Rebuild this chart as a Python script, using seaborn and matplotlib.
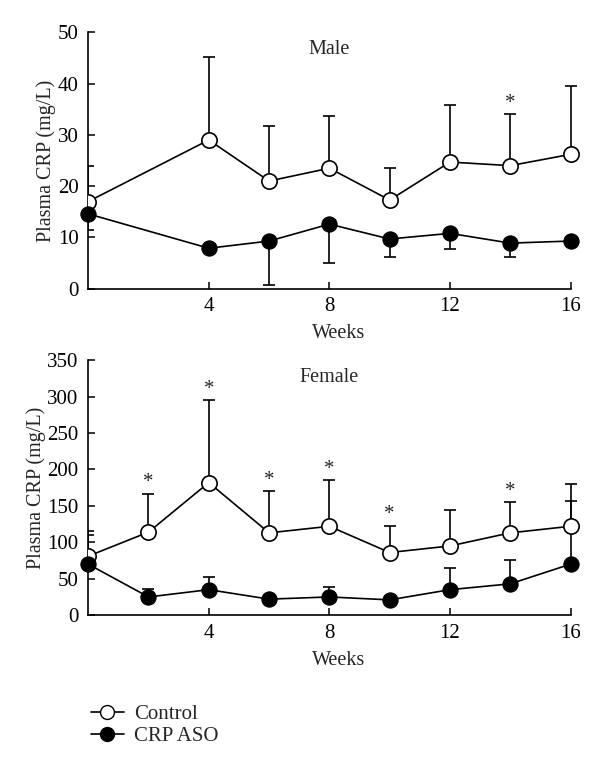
import numpy as np
import pandas as pd
import matplotlib
matplotlib.use("Agg")
import matplotlib.pyplot as plt
from matplotlib.lines import Line2D
import seaborn as sns

# Datos
male_weeks = [0, 4, 6, 8, 10, 12, 14, 16]
male_control = [17.0, 29.0, 21.0, 23.5, 17.3, 24.7, 24.0, 26.2]
male_control_top = [24.0, 45.2, 31.8, 33.6, 23.5, 35.8, 34.0, 39.6]
male_aso = [14.6, 7.9, 9.3, 12.6, 9.7, 10.8, 8.9, 9.3]
male_aso_low = [11.4, 7.9, 0.7, 5.1, 6.2, 7.7, 6.2, 9.3]
male_stars = [14]

female_weeks = [0, 2, 4, 6, 8, 10, 12, 14, 16]
female_control = [81, 114, 182, 113, 122, 86, 95, 113, 122]
female_control_top = [115, 167, 295, 170, 185, 123, 144, 155, 180]
female_aso = [70, 25, 35, 22, 25, 21, 35, 43, 70]
female_aso_top = [110, 36, 52, 22, 39, 21, 65, 76, 157]
female_stars = [2, 4, 6, 8, 10, 14]

sns.set_style("ticks")
plt.rcParams["font.family"] = ["Liberation Serif", "DejaVu Serif"]
plt.rcParams["font.size"] = 14

fig = plt.figure(figsize=(6, 7.68), dpi=100)
ax1 = fig.add_axes([0.147, 0.624, 0.834, 0.334])
ax2 = fig.add_axes([0.147, 0.199, 0.834, 0.332])


def panel(ax, weeks, ctrl, ctrl_err, aso, aso_err, stars, star_y, title, ymax, step):
    df_c = pd.DataFrame({"week": weeks, "crp": ctrl})
    df_a = pd.DataFrame({"week": weeks, "crp": aso})
    ax.errorbar(weeks, ctrl, yerr=ctrl_err, fmt="none", ecolor="black",
                elinewidth=1.2, capsize=4, capthick=1.2, zorder=1)
    ax.errorbar(weeks, aso, yerr=aso_err, fmt="none", ecolor="black",
                elinewidth=1.2, capsize=4, capthick=1.2, zorder=1)
    sns.lineplot(data=df_c, x="week", y="crp", ax=ax, color="black", lw=1.2,
                 marker="o", markersize=11, markerfacecolor="white",
                 markeredgecolor="black", markeredgewidth=1.2, zorder=3)
    sns.lineplot(data=df_a, x="week", y="crp", ax=ax, color="black", lw=1.2,
                 marker="o", markersize=11, markerfacecolor="black",
                 markeredgecolor="black", zorder=4, clip_on=False)
    for w in stars:
        ax.annotate("*", (w, star_y[weeks.index(w)]), xytext=(0, 1),
                    textcoords="offset points", ha="center", va="bottom",
                    fontsize=15)
    ax.set_xlim(0, 16.6)
    ax.set_ylim(0, ymax)
    ax.set_xticks([4, 8, 12, 16])
    ax.set_yticks(np.arange(0, ymax + 1, step))
    ax.tick_params(direction="in", length=5, width=1.1, labelsize=15, colors="black")
    ax.tick_params(axis="x", pad=6)
    ax.tick_params(axis="y", pad=7)
    for s in ["left", "bottom"]:
        ax.spines[s].set_linewidth(1.2)
        ax.spines[s].set_color("black")
    sns.despine(ax=ax)
    ax.spines["bottom"].set_bounds(0, 16)
    ax.set_xlabel("Weeks", fontsize=14.5, labelpad=6)
    ax.set_ylabel("Plasma CRP (mg/L)", fontsize=14.5, labelpad=1)
    ax.text(8, ymax * 0.97, title, ha="center", va="top", fontsize=14.5)


c_err = [np.zeros(len(male_weeks)), np.array(male_control_top) - np.array(male_control)]
a_err = [np.array(male_aso) - np.array(male_aso_low), np.zeros(len(male_weeks))]
panel(ax1, male_weeks, male_control, c_err, male_aso, a_err, male_stars,
      male_control_top, "Male", 50, 10)

c_err = [np.zeros(len(female_weeks)), np.array(female_control_top) - np.array(female_control)]
a_err = [np.zeros(len(female_weeks)), np.array(female_aso_top) - np.array(female_aso)]
panel(ax2, female_weeks, female_control, c_err, female_aso, a_err, female_stars,
      female_control_top, "Female", 350, 50)

handles = [
    Line2D([], [], color="black", lw=1.2, marker="o", markersize=10,
           markerfacecolor="white", markeredgecolor="black"),
    Line2D([], [], color="black", lw=1.2, marker="o", markersize=10,
           markerfacecolor="black", markeredgecolor="black"),
]
fig.legend(handles, ["Control", "CRP ASO"], loc="upper left",
           bbox_to_anchor=(0.12, 0.107), frameon=False, fontsize=15,
           handlelength=1.6, handletextpad=0.5, labelspacing=0.1)

fig.savefig("out.png", dpi=100)
